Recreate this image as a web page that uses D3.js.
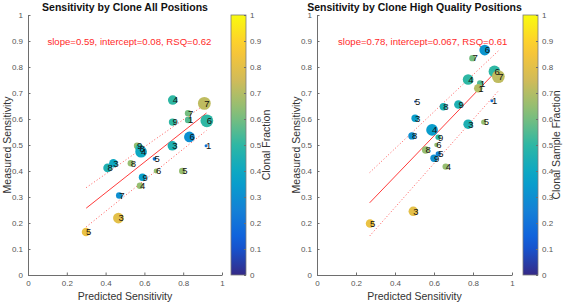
<!DOCTYPE html>
<html>
<head>
<meta charset="utf-8">
<script src="https://cdn.jsdelivr.net/npm/d3@7"></script>
<style>
  body { margin: 0; background: #fff; }
  svg { font-family: "Liberation Sans", Arial, sans-serif; }
  .axis path, .axis line { stroke: #6e6e6e; }
  .axis text { fill: #555; font-size: 8px; }
  .axis-title { fill: #333; font-size: 10.5px; }
  .chart-title { fill: #111; font-size: 10.5px; font-weight: bold; }
  .fit-text { fill: #ff2a2a; font-size: 9.6px; }
  .pt-label { fill: #111; font-size: 9.5px; }
</style>
</head>
<body>
<svg id="chart" width="567" height="304"></svg>
<script>
const width = 567;
const height = 304;

// ---- data: All Positions ----
const allLabels = ["4", "7", "7", "1", "9", "6", "6", "3", "1", "9", "8", "4",
  "5", "3", "8", "8", "6", "5", "9", "4", "7", "3", "5"];
const allPredicted = [0.746, 0.909, 0.825, 0.825, 0.745, 0.922, 0.832, 0.744, 0.918, 0.562, 0.575, 0.583,
  0.652, 0.44, 0.41, 0.53, 0.66, 0.795, 0.59, 0.577, 0.47, 0.466, 0.299];
const allMeasured = [0.673, 0.66, 0.622, 0.596, 0.588, 0.593, 0.531, 0.497, 0.497, 0.497, 0.487, 0.474,
  0.447, 0.43, 0.412, 0.43, 0.4, 0.4, 0.376, 0.343, 0.306, 0.219, 0.165];
const allFraction = [0.5, 0.72, 0.6, 0.55, 0.5, 0.5, 0.3, 0.45, 0.2, 0.65, 0.5, 0.4,
  0.2, 0.4, 0.45, 0.65, 0.65, 0.65, 0.35, 0.65, 0.3, 0.8, 0.82];
const allWeight = [20, 36, 9, 9, 12, 36, 25, 20, 2, 9, 16, 30,
  3, 16, 16, 9, 5, 9, 12, 9, 9, 25, 16];
const allFit = { slope: 0.59, intercept: 0.08, rsq: "0.62", xMin: 0.3, xMax: 0.92 };
const allUpper = [[0.3, 0.336], [0.92, 0.66]];
const allLower = [[0.3, 0.185], [0.92, 0.556]];

// ---- data: High Quality Positions ----
const hqLabels = ["6", "7", "6", "7", "4", "1", "1", "1", "5", "8", "9", "3",
  "3", "5", "4", "8", "9", "6", "8", "5", "9", "4", "3", "5"];
const hqPredicted = [0.86, 0.797, 0.91, 0.93, 0.775, 0.836, 0.827, 0.897, 0.503, 0.648, 0.725, 0.503,
  0.775, 0.855, 0.59, 0.487, 0.621, 0.612, 0.557, 0.622, 0.6, 0.66, 0.494, 0.272];
const hqMeasured = [0.865, 0.834, 0.783, 0.763, 0.752, 0.737, 0.718, 0.67, 0.667, 0.647, 0.656, 0.603,
  0.58, 0.588, 0.558, 0.535, 0.53, 0.5, 0.481, 0.466, 0.449, 0.417, 0.245, 0.198];
const hqFraction = [0.32, 0.6, 0.5, 0.72, 0.5, 0.55, 0.7, 0.2, 0.1, 0.45, 0.45, 0.35,
  0.45, 0.65, 0.35, 0.3, 0.5, 0.65, 0.65, 0.25, 0.3, 0.65, 0.8, 0.82];
const hqWeight = [25, 9, 30, 36, 25, 8, 16, 2, 1, 12, 16, 12,
  20, 6, 30, 12, 6, 4, 12, 6, 12, 9, 20, 16];
const hqFit = { slope: 0.78, intercept: 0.067, rsq: "0.61", xMin: 0.27, xMax: 0.93 };
const hqUpper = [[0.27, 0.394], [0.93, 0.862]];
const hqLower = [[0.27, 0.15], [0.93, 0.708]];

const xTicks = [0, 0.2, 0.4, 0.6, 0.8, 1];
const yTicks = [0, 0.1, 0.2, 0.3, 0.4, 0.5, 0.6, 0.7, 0.8, 0.9, 1];

// parula-like colormap stops
const parula = ["#352a87", "#0f5cdd", "#1481d6", "#06a4ca", "#2eb7a4",
  "#87bf77", "#d1bb59", "#fec832", "#f9fb0e"];
const colorScale = d3.scaleLinear()
  .domain(parula.map((c, i) => i / (parula.length - 1)))
  .range(parula)
  .interpolate(d3.interpolateRgb)
  .clamp(true);

const radius = d3.scaleSqrt().domain([0, 36]).range([0, 6.4]);

let svg = d3.select("#chart");
const defs = svg.append("defs");

const grad = defs.append("linearGradient")
  .attr("id", "cbar-grad")
  .attr("x1", 0).attr("y1", 1).attr("x2", 0).attr("y2", 0);
d3.range(0, 1.0001, 0.05).forEach(t => {
  grad.append("stop").attr("offset", t).attr("stop-color", colorScale(t));
});

const panels = [
  {
    title: "Sensitivity by Clone All Positions",
    cbarTitle: "Clonal Fraction",
    left: 28, right: 222, cbarX: 231, cbarTitleX: 270, noteX: 0.1,
    labels: allLabels, x: allPredicted, y: allMeasured, c: allFraction, w: allWeight,
    fit: allFit, upper: allUpper, lower: allLower
  },
  {
    title: "Sensitivity by Clone High Quality Positions",
    cbarTitle: "Clonal Sample Fraction",
    left: 317, right: 512, cbarX: 523, cbarTitleX: 560, noteX: 0.108,
    labels: hqLabels, x: hqPredicted, y: hqMeasured, c: hqFraction, w: hqWeight,
    fit: hqFit, upper: hqUpper, lower: hqLower
  }
];

const plotTop = 15;
const plotBottom = 275;

panels.forEach(drawPanel);

function drawPanel(p) {
  const g = svg.append("g");

  const xScale = d3.scaleLinear().domain([0, 1]).range([p.left, p.right]);
  const yScale = d3.scaleLinear().domain([0, 1]).range([plotBottom, plotTop]);

  /* AXES */
  const xAxis = d3.axisBottom(xScale).tickValues(xTicks)
    .tickFormat(d3.format("~g")).tickSizeInner(-2.5).tickSizeOuter(0).tickPadding(5);
  const yAxis = d3.axisLeft(yScale).tickValues(yTicks)
    .tickFormat(d3.format("~g")).tickSizeInner(-2.5).tickSizeOuter(0).tickPadding(5);

  g.append("g").attr("class", "axis")
    .attr("transform", translate(0, plotBottom))
    .call(xAxis);
  g.append("g").attr("class", "axis")
    .attr("transform", translate(p.left, 0))
    .call(yAxis);

  /* TITLES */
  g.append("text")
    .attr("class", "chart-title")
    .attr("x", midpoint(xScale.range()))
    .attr("y", 11)
    .attr("text-anchor", "middle")
    .text(p.title);

  g.append("text")
    .attr("class", "axis-title")
    .attr("x", midpoint(xScale.range()))
    .attr("y", 300)
    .attr("text-anchor", "middle")
    .text("Predicted Sensitivity");

  g.append("text")
    .attr("class", "axis-title")
    .attr("transform", translate(p.left - 17, midpoint(yScale.range())) + " rotate(-90)")
    .attr("text-anchor", "middle")
    .text("Measured Sensitivity");

  /* FIT LINE AND BANDS */
  const line = d3.line().x(d => xScale(d[0])).y(d => yScale(d[1]));
  const fitPts = [p.fit.xMin, p.fit.xMax].map(v => [v, p.fit.slope * v + p.fit.intercept]);

  g.append("path")
    .datum(fitPts)
    .attr("d", line)
    .attr("fill", "none")
    .attr("stroke", "#ff3b3b")
    .attr("stroke-width", 1);

  [p.upper, p.lower].forEach(band => {
    g.append("path")
      .datum(band)
      .attr("d", line)
      .attr("fill", "none")
      .attr("stroke", "#ff5a5a")
      .attr("stroke-width", 1)
      .attr("stroke-dasharray", "1,2.2");
  });

  g.append("text")
    .attr("class", "fit-text")
    .attr("x", xScale(p.noteX))
    .attr("y", yScale(0.9) + 3.5)
    .text("slope=" + p.fit.slope + ", intercept=" + p.fit.intercept + ", RSQ=" + p.fit.rsq);

  /* POINTS */
  const pts = p.labels.map((lab, i) => ({
    label: lab, x: p.x[i], y: p.y[i], c: p.c[i], w: p.w[i]
  }));

  const dots = g.append("g");
  dots.selectAll("circle")
    .data(pts)
    .enter()
    .append("circle")
      .attr("cx", d => xScale(d.x))
      .attr("cy", d => yScale(d.y))
      .attr("r", d => radius(d.w))
      .style("fill", d => colorScale(d.c));

  dots.selectAll("text")
    .data(pts)
    .enter()
    .append("text")
      .attr("class", "pt-label")
      .attr("x", d => xScale(d.x))
      .attr("y", d => yScale(d.y))
      .attr("dy", "0.35em")
      .text(d => d.label);

  /* COLORBAR */
  const cbW = 15;
  const cbScale = d3.scaleLinear().domain([0, 1]).range([plotBottom, plotTop]);
  const cb = g.append("g");
  cb.append("rect")
    .attr("x", p.cbarX)
    .attr("y", plotTop)
    .attr("width", cbW)
    .attr("height", plotBottom - plotTop)
    .style("fill", "url(#cbar-grad)")
    .style("stroke", "#7a7a7a")
    .style("stroke-width", 0.8);

  const cbAxis = d3.axisRight(cbScale).tickValues(yTicks)
    .tickFormat(d3.format("~g")).tickSizeInner(-2).tickSizeOuter(0).tickPadding(4);
  cb.append("g").attr("class", "axis")
    .attr("transform", translate(p.cbarX + cbW, 0))
    .call(cbAxis)
    .call(a => a.select(".domain").remove());

  cb.append("text")
    .attr("class", "axis-title")
    .attr("transform", translate(p.cbarTitleX, midpoint(cbScale.range())) + " rotate(-90)")
    .attr("text-anchor", "middle")
    .text(p.cbarTitle);
}

/*
 * calculates the midpoint of a range given as a 2 element array
 */
function midpoint(range) {
  return range[0] + (range[1] - range[0]) / 2.0;
}

/*
 * returns a translate string for the transform attribute
 */
function translate(x, y) {
  return 'translate(' + String(x) + ',' + String(y) + ')';
}
</script>
</body>
</html>
